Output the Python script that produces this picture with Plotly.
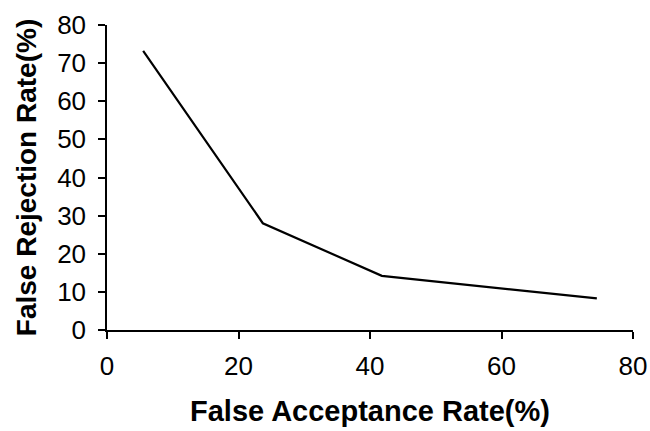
import plotly.graph_objects as go

far = [5.5, 23.7, 41.8, 74.5]
frr = [73.2, 28.0, 14.2, 8.3]
x_ticks = [0, 20, 40, 60, 80]
y_ticks = [0, 10, 20, 30, 40, 50, 60, 70, 80]

fig = go.Figure()
fig.add_trace(go.Scatter(x=far, y=frr, mode="lines",
                         line=dict(color="black", width=2.2), showlegend=False))

font_family = "Liberation Sans, Arial, sans-serif"
fig.update_layout(
    width=650, height=431,
    margin=dict(l=107, r=17, t=25, b=101),
    paper_bgcolor="white", plot_bgcolor="white",
    font=dict(family=font_family, color="black"),
)
fig.update_xaxes(
    range=[0, 80], tickvals=x_ticks, ticktext=[str(v) for v in x_ticks],
    showgrid=False, zeroline=False, showline=True, linecolor="black", linewidth=2,
    ticks="outside", ticklen=7, tickwidth=1.5, tickcolor="black",
    tickfont=dict(size=26, family=font_family), ticklabelstandoff=5,
    automargin=False,
    title=dict(text="False Acceptance Rate(%)", standoff=20,
               font=dict(size=29, family=font_family, weight="bold")),
)
fig.update_yaxes(
    range=[0, 80], tickvals=y_ticks, ticktext=[str(v) for v in y_ticks],
    showgrid=False, zeroline=False, showline=True, linecolor="black", linewidth=1.5,
    ticks="outside", ticklen=7, tickwidth=1.5, tickcolor="black",
    tickfont=dict(size=26, family=font_family), ticklabelstandoff=7,
    automargin=False,
    title=dict(text="False Rejection Rate(%)", standoff=12,
               font=dict(size=28, family=font_family, weight="bold")),
)
fig.write_html("out.html", config={"displayModeBar": False},
               post_script="document.body.style.margin='0';")
